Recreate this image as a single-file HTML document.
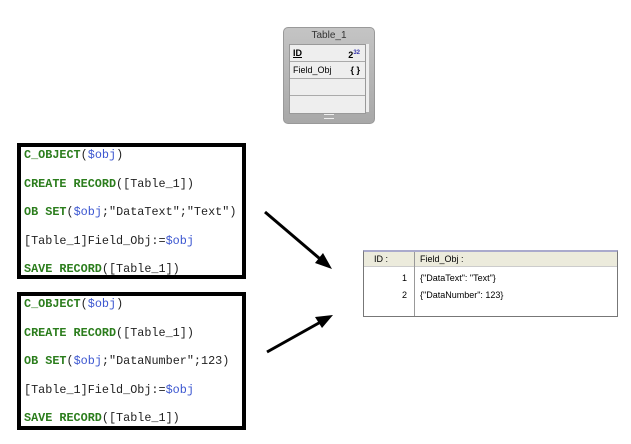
<!DOCTYPE html>
<html><head><style>
body{margin:0;width:631px;height:444px;background:#fff;position:relative;overflow:hidden;font-family:"Liberation Sans",sans-serif}
.code{position:absolute;left:17px;width:221px;border:4px solid #000;background:#fff;font-family:"Liberation Mono",monospace;font-size:11.8px;color:#222}
.code div{position:absolute;left:3px;white-space:pre}
.k{color:#2b7d1c;font-weight:bold}
.v{color:#3a55d0}
.w{position:absolute;left:283px;top:27px;width:90px;height:95px;background:linear-gradient(#c4c4c4,#a8a8a8);border:1px solid #999;border-radius:5px}
.tbl{position:absolute;left:363px;top:250px;width:253px;height:64px;border:1px solid #777;border-top:2px solid #aac;background:#fff;font-size:9px}
</style></head><body>
<div class="w">
<div style="position:absolute;top:2px;width:100%;text-align:center;font-size:10px;color:#333">Table_1</div>
<div style="position:absolute;left:5px;top:16px;width:75px;height:68px;background:#eee;border:1px solid #999">
 <div style="height:16px;border-bottom:1px solid #aaa;font-size:9px;line-height:16px;padding-left:3px;font-weight:bold;text-decoration:underline">ID<span style="position:absolute;right:5px;text-decoration:none">2<sup style="font-size:6px;color:#33a">32</sup></span></div>
 <div style="height:16px;border-bottom:1px solid #aaa;font-size:9px;line-height:16px;padding-left:3px">Field_Obj<span style="position:absolute;right:5px;font-weight:bold">{ }</span></div>
 <div style="height:16px;border-bottom:1px solid #aaa"></div>
</div>
<div style="position:absolute;left:82px;top:16px;width:3px;height:68px;background:#eee"></div>
<div style="position:absolute;left:40px;top:86px;width:10px;height:3px;border-top:1px solid #eee;border-bottom:1px solid #eee"></div>
</div>
<div class="code" style="top:143px;height:128px">
<div style="top:1px"><span class="k">C_OBJECT</span>(<span class="v">$obj</span>)</div>
<div style="top:30px"><span class="k">CREATE RECORD</span>([Table_1])</div>
<div style="top:58px"><span class="k">OB SET</span>(<span class="v">$obj</span>;"DataText";"Text")</div>
<div style="top:87px">[Table_1]Field_Obj:=<span class="v">$obj</span></div>
<div style="top:115px"><span class="k">SAVE RECORD</span>([Table_1])</div>
</div>
<div class="code" style="top:292px;height:130px">
<div style="top:1px"><span class="k">C_OBJECT</span>(<span class="v">$obj</span>)</div>
<div style="top:30px"><span class="k">CREATE RECORD</span>([Table_1])</div>
<div style="top:58px"><span class="k">OB SET</span>(<span class="v">$obj</span>;"DataNumber";123)</div>
<div style="top:87px">[Table_1]Field_Obj:=<span class="v">$obj</span></div>
<div style="top:115px"><span class="k">SAVE RECORD</span>([Table_1])</div>
</div>
<svg style="position:absolute;left:0;top:0" width="631" height="444">
<line x1="265" y1="212" x2="326" y2="264" stroke="#000" stroke-width="3"/>
<polygon points="332,269 315,263 323,253" fill="#000"/>
<line x1="267" y1="352" x2="326" y2="319" stroke="#000" stroke-width="3"/>
<polygon points="333,315 322,328 315,317" fill="#000"/>
</svg>
<div class="tbl">
<div style="height:14px;background:#ecebdc;border-bottom:1px solid #ccc"></div>
<div style="position:absolute;left:50px;top:0;width:1px;height:64px;background:#999"></div>
<div style="position:absolute;left:10px;top:2px">ID :</div>
<div style="position:absolute;left:56px;top:2px">Field_Obj :</div>
<div style="position:absolute;right:210px;top:21px">1</div>
<div style="position:absolute;left:56px;top:21px">{"DataText": "Text"}</div>
<div style="position:absolute;right:210px;top:38px">2</div>
<div style="position:absolute;left:56px;top:38px">{"DataNumber": 123}</div>
</div>
</body></html>
